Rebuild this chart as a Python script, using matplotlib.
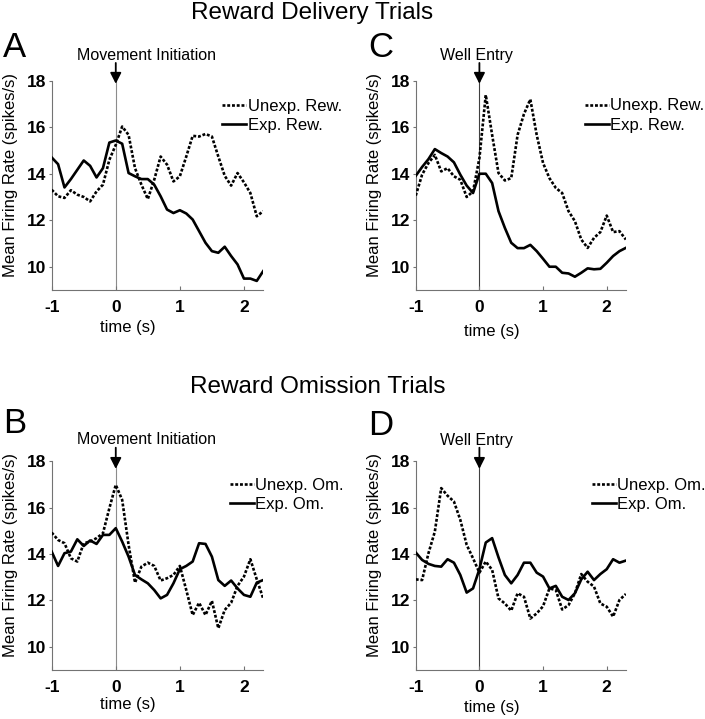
import matplotlib
matplotlib.use("Agg")
import matplotlib.pyplot as plt

plt.rcParams["font.family"] = ["Liberation Sans", "DejaVu Sans"]

# time axis (s), 100 ms bins
t = [-1.0, -0.9, -0.8, -0.7, -0.6, -0.5, -0.4, -0.3, -0.2, -0.1,
     0.0, 0.1, 0.2, 0.3, 0.4, 0.5, 0.6, 0.7, 0.8, 0.9,
     1.0, 1.1, 1.2, 1.3, 1.4, 1.5, 1.6, 1.7, 1.8, 1.9,
     2.0, 2.1, 2.2, 2.3]

# A: reward delivery, aligned on movement initiation
a_unexp = [13.31, 13.03, 12.96, 13.29, 13.10, 13.00, 12.81, 13.24, 13.53, 14.60,
           15.24, 16.03, 15.67, 14.24, 13.53, 12.91, 13.74, 14.74, 14.39, 13.67,
           13.89, 14.74, 15.63, 15.60, 15.71, 15.60, 14.74, 13.91, 13.49, 14.03,
           13.63, 13.17, 12.17, 12.39]
a_exp = [14.70, 14.41, 13.41, 13.77, 14.17, 14.57, 14.34, 13.84, 14.24, 15.34,
         15.43, 15.29, 14.03, 13.89, 13.77, 13.77, 13.53, 13.03, 12.46, 12.31,
         12.43, 12.29, 12.03, 11.53, 11.03, 10.67, 10.60, 10.86, 10.46, 10.10,
         9.49, 9.49, 9.39, 9.81]

# C: reward delivery, aligned on well entry
c_unexp = [13.06, 13.96, 14.46, 14.81, 14.10, 14.24, 13.89, 13.74, 13.00, 13.24,
           14.67, 17.39, 15.67, 14.03, 13.71, 13.81, 15.67, 16.57, 17.20, 15.67,
           14.46, 13.81, 13.39, 13.17, 12.39, 11.96, 11.17, 10.81, 11.24, 11.49,
           12.20, 11.49, 11.53, 11.17]
c_exp = [13.91, 14.29, 14.63, 15.06, 14.89, 14.74, 14.49, 13.96, 13.49, 13.17,
         14.00, 14.00, 13.60, 12.39, 11.67, 11.03, 10.80, 10.80, 10.94, 10.67,
         10.34, 10.00, 10.00, 9.74, 9.71, 9.57, 9.74, 9.93, 9.89, 9.91,
         10.17, 10.46, 10.67, 10.81]

# B: reward omission, aligned on movement initiation
b_unexp = [14.93, 14.61, 14.47, 13.82, 13.68, 14.47, 14.54, 14.69, 14.90, 15.98,
           16.99, 16.34, 14.40, 12.77, 13.46, 13.63, 13.49, 12.86, 12.96, 13.10,
           13.49, 12.45, 11.37, 11.90, 11.37, 11.98, 10.80, 11.59, 11.90, 12.63,
           13.03, 13.78, 12.91, 12.09]
b_exp = [14.11, 13.49, 14.04, 14.11, 14.64, 14.35, 14.59, 14.44, 14.83, 14.83,
         15.12, 14.54, 13.89, 13.10, 12.91, 12.74, 12.45, 12.09, 12.24, 12.74,
         13.35, 13.49, 13.68, 14.47, 14.44, 13.89, 12.88, 12.63, 12.86, 12.52,
         12.24, 12.16, 12.77, 12.88]

# D: reward omission, aligned on well entry
d_unexp = [12.91, 12.88, 14.04, 14.97, 16.85, 16.52, 16.27, 15.48, 14.40, 13.82,
           13.20, 13.68, 13.32, 12.09, 11.87, 11.56, 12.31, 12.16, 11.22, 11.44,
           11.75, 12.52, 12.45, 11.61, 11.80, 12.31, 13.14, 12.81, 12.60, 11.87,
           11.73, 11.30, 12.02, 12.28]
d_exp = [14.07, 13.75, 13.58, 13.49, 13.46, 13.78, 13.63, 13.10, 12.34, 12.52,
         13.35, 14.50, 14.69, 13.86, 13.10, 12.74, 13.10, 13.63, 13.63, 13.20,
         13.03, 12.52, 12.63, 12.16, 12.02, 12.31, 12.91, 13.24, 12.88, 13.14,
         13.35, 13.78, 13.63, 13.72]

yticks = [10, 12, 14, 16, 18]
xticks = [-1, 0, 1, 2]

DOTTED = (0, (1.1, 0.7))
SPINE = "0.45"

# (letter, rect, unexp, exp, legend labels, event label, event text offset pts,
#  arrow tip / arrow start, legend anchor, time label y, zero-line colour, letter pos)
panels = [
    ("A", [0.0733, 0.5967, 0.300, 0.291], a_unexp, a_exp,
     ("Unexp. Rew.", "Exp. Rew."), "Movement Initiation", (22, 15), (17.87, 1.085),
     (0.806, 0.831), -0.177, "0.55", (0.004, 0.921)),
    ("C", [0.5897, 0.5967, 0.298, 0.291], c_unexp, c_exp,
     ("Unexp. Rew.", "Exp. Rew."), "Well Entry", (-2, 15), (17.87, 1.085),
     (0.805, 0.834), -0.20, "0.25", (0.522, 0.921)),
    ("B", [0.0733, 0.0682, 0.300, 0.290], b_unexp, b_exp,
     ("Unexp. Om.", "Exp. Om."), "Movement Initiation", (22, 12.7), (17.68, 1.066),
     (0.843, 0.840), -0.168, "0.55", (0.004, 0.398)),
    ("D", [0.5897, 0.0682, 0.298, 0.290], d_unexp, d_exp,
     ("Unexp. Om.", "Exp. Om."), "Well Entry", (-2, 12.2), (17.68, 1.066),
     (0.838, 0.840), -0.18, "0.25", (0.522, 0.395)),
]

fig = plt.figure(figsize=(7.05, 7.19), dpi=100)

for (letter, rect, unexp, exp, labels, event, ev_off, arrow, leg_xy, tl_y,
     zcol, let_xy) in panels:
    ax = fig.add_axes(rect)
    ax.axvline(0, color=zcol, lw=0.8, zorder=1)
    l1, = ax.plot(t, unexp, color="black", lw=1.9, linestyle=DOTTED, zorder=3)
    l2, = ax.plot(t, exp, color="black", lw=1.9, zorder=3)

    ax.set_xlim(-1, 2.3)
    ax.set_ylim(9, 18)
    ax.set_xticks(xticks)
    ax.set_yticks(yticks)
    ax.set_xticklabels([str(v) for v in xticks], fontweight="bold", fontsize=12.5)
    ax.set_yticklabels([str(v) for v in yticks], fontweight="bold", fontsize=12.5)
    for s in ("top", "right"):
        ax.spines[s].set_visible(False)
    for s in ("left", "bottom"):
        ax.spines[s].set_color(SPINE)
        ax.spines[s].set_linewidth(0.8)
    ax.tick_params(axis="x", direction="in", length=3, width=0.8,
                   color=SPINE, pad=7.5)
    ax.tick_params(axis="y", direction="out", length=2.5, width=0.8,
                   color=SPINE, pad=1.5)

    ax.text(-0.194, 0.55, "Mean Firing Rate (spikes/s)", rotation=90,
            transform=ax.transAxes, ha="center", va="center", fontsize=12)
    ax.text(0.36, tl_y, "time (s)", transform=ax.transAxes,
            ha="center", va="center", fontsize=12)

    ax.legend([l1, l2], labels, loc="center left", bbox_to_anchor=leg_xy,
              frameon=False, fontsize=12, handlelength=1.45,
              handletextpad=0.08, labelspacing=0.25, borderpad=0,
              borderaxespad=0)

    # event marker: arrow from above the axes down to the top of the zero line
    ax.annotate("", xy=(0, arrow[0]), xytext=(0, arrow[1]), xycoords="data",
                textcoords=("data", "axes fraction"),
                arrowprops=dict(arrowstyle="-|>,head_length=0.65,head_width=0.33",
                                color="black", lw=1.3, shrinkA=0, shrinkB=0),
                annotation_clip=False)
    ax.annotate(event, xy=(0, 1), xycoords=("data", "axes fraction"),
                xytext=ev_off, textcoords="offset points",
                ha="center", va="baseline", fontsize=11.5,
                annotation_clip=False)

    fig.text(let_xy[0], let_xy[1], letter, fontsize=25,
             ha="left", va="baseline")

fig.text(0.443, 1 - 19 / 719, "Reward Delivery Trials", fontsize=17.5,
         ha="center", va="baseline")
fig.text(0.451, 1 - 393 / 719, "Reward Omission Trials", fontsize=17.5,
         ha="center", va="baseline")

fig.savefig("out.png", dpi=100)
